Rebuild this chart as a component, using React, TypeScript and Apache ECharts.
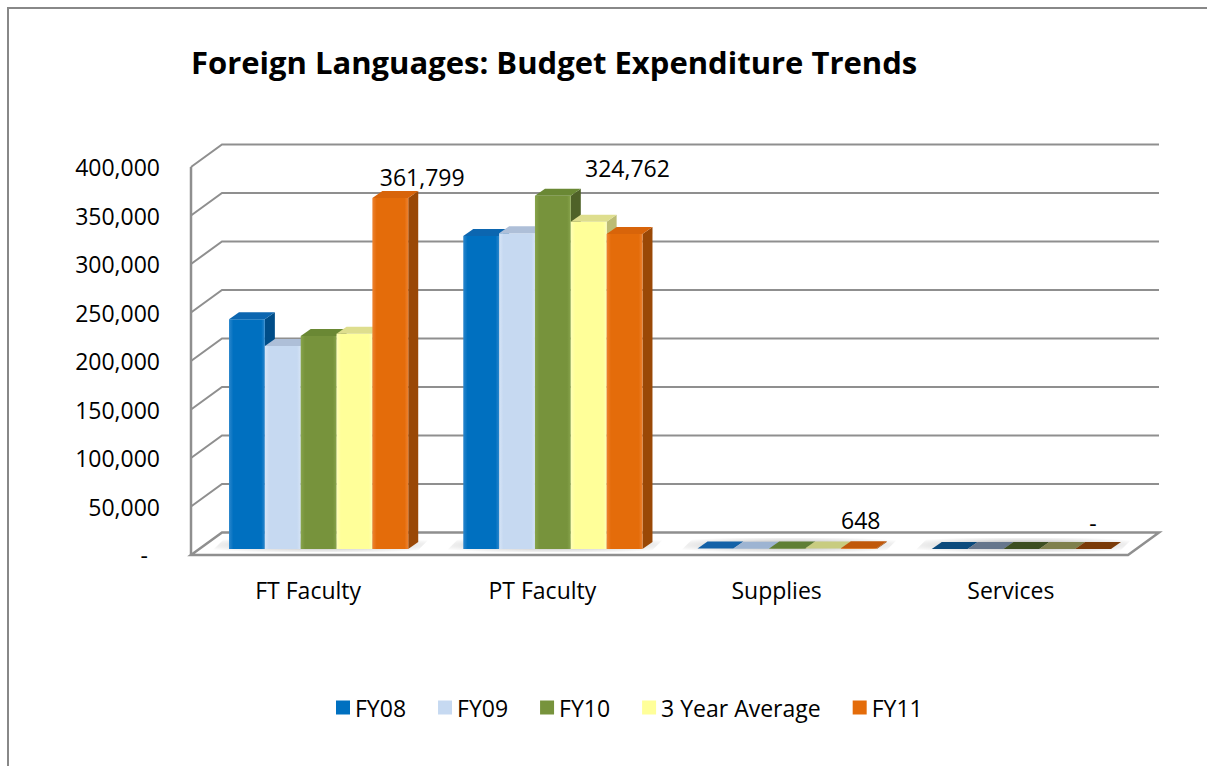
import React, { useEffect, useRef } from 'react';
import * as echarts from 'echarts';

// ---------- data ----------
const categories = ['FT Faculty', 'PT Faculty', 'Supplies', 'Services'];
const seriesNames = ['FY08', 'FY09', 'FY10', '3 Year Average', 'FY11'];
const fy08 = [236800, 322700, 450, 0];
const fy09 = [209300, 325500, 380, 0];
const fy10 = [219600, 364200, 520, 0];
const avg3 = [221900, 337500, 450, 0];
const fy11 = [361799, 324762, 648, 0];
const yTicks = [0, 50000, 100000, 150000, 200000, 250000, 300000, 350000, 400000];
const titleText = 'Foreign Languages: Budget Expenditure Trends';

// ---------- styles ----------
const FONT = "'Open Sans', 'Noto Sans', sans-serif";
const GRID_COLOR = '#8f8f8f';
const WALL_DX = 31;
const WALL_DY = 22.5;
const BAR_DX = 10.5;
const BAR_DY = -6;
const DEPTH_X = 10;
const DEPTH_Y = 7;
const GROUP_FRAC = 0.765;
const palette = [
  { front: '#0070C0', light: '#2a86cc', top: '#0c66b0', side: '#004d88', flat: '#0b4a7c', flatNZ: '#1462a8' },
  { front: '#C6D9F1', light: '#d6e4f6', top: '#aebfd8', side: '#97a8bf', flat: '#66768c', flatNZ: '#9db4d2' },
  { front: '#77933C', light: '#88a44c', top: '#6a8834', side: '#4f6228', flat: '#3c4e21', flatNZ: '#5f7f35' },
  { front: '#FFFF99', light: '#ffffb8', top: '#dede8e', side: '#bcbc74', flat: '#7f804d', flatNZ: '#c8cc80' },
  { front: '#E46C0A', light: '#ee8230', top: '#d8640a', side: '#9a4806', flat: '#7a3a08', flatNZ: '#c0580a' },
];
const labelOffsets = [[14, -21], [-15, -66], [-16, -28], [-18, -26]];

const allSeries = [fy08, fy09, fy10, avg3, fy11];

function fmt(v: number) {
  return v === 0 ? '-' : v.toLocaleString('en-US');
}

export default function App() {
  const ref = useRef<HTMLDivElement>(null);
  useEffect(() => {
    if (!ref.current) return;
    const chart = echarts.init(ref.current, null, { renderer: 'svg' });

    const wallSeries: any = {
      type: 'custom',
      name: 'walls',
      silent: true,
      z: 1,
      data: yTicks.map((t) => [0, t]),
      renderItem: (params: any, api: any) => {
        const cs = params.coordSys;
        const v = api.value(1);
        const y = api.coord([0, v])[1];
        const x0 = cs.x;
        const x1 = cs.x + cs.width;
        const children: any[] = [];
        if (v === 0) {
          children.push({
            type: 'polygon',
            shape: { points: [[x0, y], [x1, y], [x1 + WALL_DX, y - WALL_DY], [x0 + WALL_DX, y - WALL_DY]] },
            style: { fill: '#ffffff', stroke: GRID_COLOR, lineWidth: 2.5 },
          });
          const band = api.size([1, 0])[0];
          for (let i = 0; i < categories.length; i++) {
            const c = api.coord([i, 0]);
            const gw = band * GROUP_FRAC;
            const gx = c[0] - gw / 2 + BAR_DX - 18;
            const gy = c[1] + BAR_DY + 3;
            children.push({
              type: 'polygon',
              shape: {
                points: [
                  [gx, gy],
                  [gx + gw + 26, gy],
                  [gx + gw + 26 + 14, gy - 14],
                  [gx + 14, gy - 14],
                ],
              },
              style: {
                fill: {
                  type: 'radial', x: 0.5, y: 0.5, r: 0.6,
                  colorStops: [
                    { offset: 0, color: 'rgba(0,0,0,0.35)' },
                    { offset: 0.6, color: 'rgba(0,0,0,0.12)' },
                    { offset: 1, color: 'rgba(0,0,0,0)' },
                  ],
                },
              },
            });
          }
          children.push({
            type: 'line',
            shape: { x1: x0, y1: cs.y, x2: x0, y2: y },
            style: { stroke: GRID_COLOR, lineWidth: 2.5 },
          });
        } else {
          children.push({
            type: 'polyline',
            shape: { points: [[x0, y], [x0 + WALL_DX, y - WALL_DY], [x1 + WALL_DX, y - WALL_DY]] },
            style: { stroke: GRID_COLOR, lineWidth: 2, fill: 'none' },
          });
        }
        return { type: 'group', children };
      },
    };

    const barSeries = allSeries.map((vals, si) => ({
      type: 'custom',
      name: seriesNames[si],
      z: 2 + si,
      itemStyle: { color: palette[si].front },
      data: vals.map((v, i) => [i, v]),
      renderItem: (params: any, api: any) => {
        const ci = api.value(0);
        const v = api.value(1);
        const base = api.coord([ci, 0]);
        const topPt = api.coord([ci, v]);
        const band = api.size([1, 0])[0];
        const groupW = band * GROUP_FRAC;
        const barW = groupW / 5;
        const x = base[0] - groupW / 2 + si * barW + BAR_DX;
        const yb = base[1] + BAR_DY;
        const yt = Math.min(topPt[1] + BAR_DY, yb);
        const p = palette[si];
        const children: any[] = [];
        const h = yb - yt;
        const topColor = v === 0 ? p.flat : h < 2 ? p.flatNZ : p.top;
        if (h > 0.5) {
          children.push({
            type: 'polygon',
            shape: { points: [[x + barW, yt], [x + barW + DEPTH_X, yt - DEPTH_Y], [x + barW + DEPTH_X, yb - DEPTH_Y], [x + barW, yb]] },
            style: { fill: p.side },
          });
          children.push({
            type: 'rect',
            shape: { x, y: yt, width: barW, height: h },
            style: {
              fill: {
                type: 'linear', x: 0, y: 0, x2: 1, y2: 0,
                colorStops: [
                  { offset: 0, color: p.light },
                  { offset: 0.12, color: p.front },
                  { offset: 0.9, color: p.front },
                  { offset: 1, color: p.light },
                ],
              },
            },
          });
        }
        children.push({
          type: 'polygon',
          shape: { points: [[x, yt], [x + barW, yt], [x + barW + DEPTH_X, yt - DEPTH_Y], [x + DEPTH_X, yt - DEPTH_Y]] },
          style: { fill: topColor },
        });
        if (si === seriesNames.length - 1) {
          const off = labelOffsets[ci];
          children.push({
            type: 'text',
            style: {
              text: fmt(v),
              x: x + barW + off[0],
              y: yt + off[1],
              fill: '#000000',
              fontSize: 23,
              fontFamily: FONT,
              align: 'center',
              verticalAlign: 'middle',
            },
          });
        }
        return { type: 'group', children };
      },
    }));

    chart.setOption({
      animation: false,
      backgroundColor: '#ffffff',
      title: {
        text: titleText,
        left: 186,
        top: 41,
        textStyle: { fontFamily: FONT, fontSize: 31, fontWeight: 'bold', color: '#000' },
      },
      legend: {
        data: seriesNames,
        left: 331,
        top: 691,
        icon: 'rect',
        itemWidth: 14,
        itemHeight: 14,
        itemGap: 32,
        textStyle: { fontFamily: FONT, fontSize: 23, color: '#000' },
        selectedMode: false,
      },
      grid: { left: 191, right: 79, top: 167, bottom: 211, containLabel: false, outerBoundsMode: 'none' } as any,
      xAxis: {
        type: 'category',
        data: categories,
        axisLine: { show: false },
        axisTick: { show: false },
        axisLabel: { margin: 23, fontFamily: FONT, fontSize: 23, color: '#000' },
      },
      yAxis: {
        type: 'value',
        min: 0,
        max: 400000,
        interval: 50000,
        axisLine: { show: false },
        axisTick: { show: false },
        splitLine: { show: false },
        axisLabel: {
          margin: 31,
          fontFamily: FONT,
          fontSize: 23,
          color: '#000',
          formatter: (v: number) => (v === 0 ? '{z|-}' : v.toLocaleString('en-US')),
          rich: { z: { fontFamily: FONT, fontSize: 23, color: '#000', padding: [0, 12, 0, 0] } },
        },
      },
      graphic: [
        { type: 'line', shape: { x1: 8, y1: 7, x2: 8, y2: 766 }, style: { stroke: '#888888', lineWidth: 2 } },
        { type: 'line', shape: { x1: 7, y1: 8, x2: 1207, y2: 8 }, style: { stroke: '#888888', lineWidth: 2 } },
      ],
      series: [wallSeries, ...barSeries],
    });
    return () => chart.dispose();
  }, []);
  return (
    <div
      ref={ref}
      style={{ position: 'absolute', left: 0, top: 0, width: 1207, height: 766 }}
    />
  );
}
